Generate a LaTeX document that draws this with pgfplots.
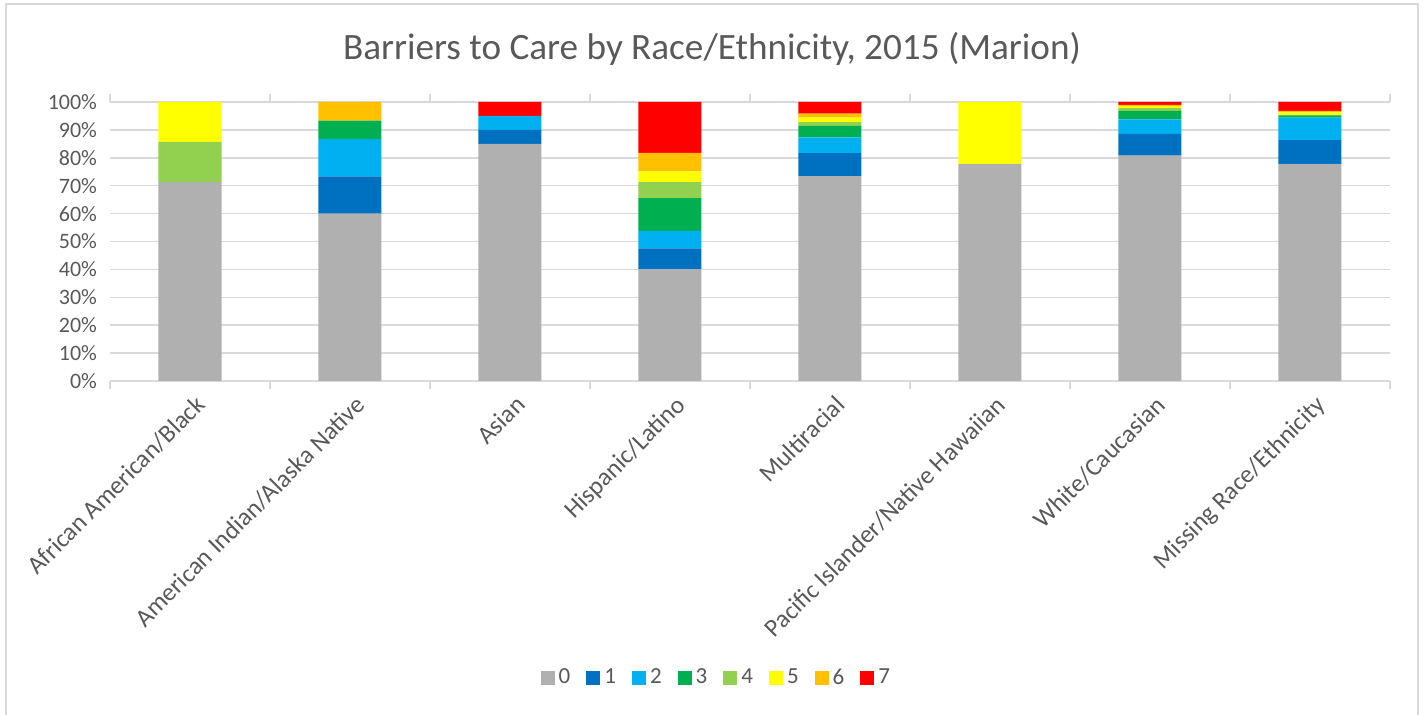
\documentclass[border=0pt]{standalone}
\usepackage{fontspec}
\setmainfont{Carlito}
\usepackage{pgfplots}
\usepackage{pgfplotstable}
\pgfplotsset{compat=1.18}

\definecolor{txt}{HTML}{595959}
\definecolor{gridc}{HTML}{D9D9D9}
\definecolor{c0}{HTML}{B0B0B0}
\definecolor{c1}{HTML}{0070C0}
\definecolor{c2}{HTML}{00B0F0}
\definecolor{c3}{HTML}{00B050}
\definecolor{c4}{HTML}{92D050}
\definecolor{c5}{HTML}{FFFF00}
\definecolor{c6}{HTML}{FFC000}
\definecolor{c7}{HTML}{FF0000}

% share of respondents (%) by number of barriers, per group
\pgfplotstableread{
x s0 s1 s2 s3 s4 s5 s6 s7
0 71.4 0 0 0 14.3 14.3 0 0
1 60.0 13.3 13.4 6.6 0 0 6.7 0
2 85.0 5.0 5.0 0 0 0 0 5.0
3 40.0 7.5 6.3 11.7 5.8 3.8 6.7 18.2
4 73.4 8.3 5.6 4.1 1.4 1.6 1.4 4.2
5 77.8 0 0 0 0 22.2 0 0
6 80.8 7.8 5.2 3.0 1.0 0.8 0.4 1.0
7 77.8 8.5 8.1 0.8 0.1 1.0 0.5 3.2
}\data

\begin{document}
\begin{tikzpicture}
\useasboundingbox (0,0) rectangle (712.5pt,357.5pt);
\draw[gridc, line width=1pt] (3pt,-5pt) -- (3pt,355.5pt) -- (709pt,355.5pt) -- (709pt,-5pt);
\begin{axis}[
    at={(55pt,167pt)}, anchor=south west,
    scale only axis,
    width=640pt, height=139.5pt,
    ybar stacked, bar width=31.5pt,
    xmin=-0.5, xmax=7.5,
    ymin=0, ymax=100,
    ytick={0,10,...,100},
    yticklabel={\pgfmathprintnumber{\tick}\%},
    xtick={0,...,7},
    xticklabels={African American/Black, American Indian/Alaska Native, Asian,
        Hispanic/Latino, Multiracial, Pacific Islander/Native Hawaiian,
        White/Caucasian, Missing Race/Ethnicity},
    /pgf/number format/assume math mode=true,
    ticklabel style={font=\fontsize{11}{13}\selectfont, text=txt},
    xticklabel style={rotate=45, anchor=north east, inner sep=1pt, yshift=-2pt, xshift=1pt,
        font=\fontsize{12.6}{14}\selectfont},
    yticklabel style={xshift=-3pt},
    xtick style={draw=none}, ytick style={draw=none},
    extra x ticks={-0.5,0.5,...,7.5},
    extra x tick labels={},
    extra x tick style={grid=none, xtick style={draw=gridc, line width=0.75pt}, major tick length=4pt},
    xtick align=outside,
    axis line style={draw=none},
    ymajorgrids, grid style={gridc, line width=0.75pt},
    title={Barriers to Care by Race/Ethnicity, 2015 (Marion)},
    title style={at={(0.5,1)}, anchor=center, yshift=20.5pt, xshift=-19pt,
        font=\fontsize{18.6}{22}\selectfont, text=txt},
    legend columns=8,
    legend style={at={(0.4745,-1.0645)}, anchor=center, draw=none,
        font=\fontsize{11.5}{13}\selectfont, text=txt,
        /tikz/every even column/.append style={column sep=6pt}},
    bs/.style={fill=#1, draw=none,
        legend image code/.code={\fill[#1] (0pt,-3.5pt) rectangle (7pt,3.5pt);}},
]
\addplot[bs=c0] table[x=x, y=s0] {\data}; \addlegendentry{0}
\addplot[bs=c1] table[x=x, y=s1] {\data}; \addlegendentry{1}
\addplot[bs=c2] table[x=x, y=s2] {\data}; \addlegendentry{2}
\addplot[bs=c3] table[x=x, y=s3] {\data}; \addlegendentry{3}
\addplot[bs=c4] table[x=x, y=s4] {\data}; \addlegendentry{4}
\addplot[bs=c5] table[x=x, y=s5] {\data}; \addlegendentry{5}
\addplot[bs=c6] table[x=x, y=s6] {\data}; \addlegendentry{6}
\addplot[bs=c7] table[x=x, y=s7] {\data}; \addlegendentry{7}
\end{axis}
\end{tikzpicture}
\end{document}
